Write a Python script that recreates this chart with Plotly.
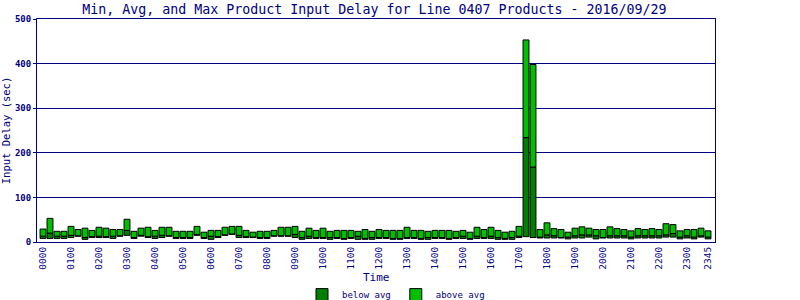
import plotly.graph_objects as go

# 15-minute time slots 0000 .. 2345
times = [f"{h:02d}{m:02d}" for h in range(24) for m in (0, 15, 30, 45)]

min_vals = [8, 8, 8, 8, 10, 13, 6, 10, 10, 10, 8, 13, 15, 8, 13, 10,
            8, 10, 13, 8, 8, 8, 15, 8, 6, 10, 15, 17, 10, 10, 10, 8,
            8, 13, 13, 13, 10, 6, 8, 8, 8, 6, 8, 6, 8, 6, 6, 6,
            8, 8, 6, 6, 8, 8, 6, 6, 8, 8, 6, 8, 8, 6, 8, 8,
            8, 6, 6, 6, 10, 12, 10, 9, 9, 9, 9, 7, 9, 9, 11, 7,
            9, 9, 9, 9, 7, 9, 9, 9, 9, 11, 11, 7, 9, 7, 11, 7]

avg_vals = [13, 20, 13, 13, 15, 14, 10, 12, 13, 12, 13, 14, 26, 10, 15, 12,
            13, 15, 14, 10, 10, 10, 17, 10, 13, 12, 16, 18, 15, 12, 11, 10,
            10, 14, 14, 14, 17, 10, 13, 10, 10, 10, 10, 8, 10, 13, 8, 10,
            10, 10, 8, 8, 10, 10, 8, 10, 10, 10, 8, 10, 13, 8, 13, 10,
            13, 10, 8, 10, 13, 234, 168, 11, 16, 14, 10, 11, 14, 16, 16, 14,
            10, 14, 14, 14, 11, 14, 14, 14, 14, 16, 19, 11, 14, 11, 14, 11]

max_vals = [29, 53, 24, 24, 35, 28, 31, 26, 33, 31, 28, 28, 51, 24, 31, 33,
            26, 33, 33, 24, 24, 24, 35, 22, 26, 26, 33, 35, 35, 26, 22, 24,
            24, 26, 33, 33, 35, 24, 31, 26, 31, 24, 26, 26, 26, 24, 28, 24,
            28, 26, 26, 26, 33, 26, 26, 24, 26, 26, 26, 24, 26, 22, 33, 28,
            33, 26, 22, 24, 35, 453, 398, 28, 43, 30, 28, 22, 31, 34, 31, 28,
            28, 34, 30, 28, 25, 30, 28, 30, 28, 41, 39, 25, 28, 28, 31, 25]

tick_labels = ["0000", "0100", "0200", "0300", "0400", "0500", "0600", "0700",
               "0800", "0900", "1000", "1100", "1200", "1300", "1400", "1500",
               "1600", "1700", "1800", "1900", "2000", "2100", "2200", "2300", "2345"]

NAVY = "#000080"
FONT = "DejaVu Sans Mono"

x_idx = list(range(len(times)))
tick_pos = [times.index(t) for t in tick_labels]

below_h = [a - mn for a, mn in zip(avg_vals, min_vals)]
above_h = [mx - a for mx, a in zip(max_vals, avg_vals)]

fig = go.Figure()
fig.add_trace(go.Bar(
    x=x_idx, y=below_h, base=min_vals, name="below avg",
    marker=dict(color="#007f00", line=dict(color="black", width=1)),
    customdata=times,
))
fig.add_trace(go.Bar(
    x=x_idx, y=above_h, base=avg_vals, name="above avg",
    marker=dict(color="#00bf00", line=dict(color="black", width=1)),
    customdata=times,
))

fig.update_layout(
    width=800, height=300,
    margin=dict(l=37, r=85, t=19, b=58, autoexpand=False),
    paper_bgcolor="white", plot_bgcolor="white",
    barmode="overlay", bargap=0.16,
    title=dict(text="Min, Avg, and Max Product Input Delay for Line 0407 Products - 2016/09/29",
               font=dict(family=FONT, size=13.3, color=NAVY),
               x=0.468, xanchor="center", y=0.985, yanchor="top"),
    font=dict(family=FONT, color=NAVY),
    showlegend=True,
    legend=dict(orientation="h", x=0.495, xref="container", xanchor="center",
                y=0.018, yref="container", yanchor="middle",
                font=dict(family=FONT, size=9, color=NAVY),
                itemwidth=30, traceorder="normal", tracegroupgap=0),
    xaxis=dict(
        range=[-0.857, 96], tickmode="array", tickvals=tick_pos, ticktext=tick_labels,
        tickangle=-90, tickfont=dict(family=FONT, size=9.5, color=NAVY),
        showgrid=False, showline=True, linecolor=NAVY, linewidth=1, mirror=True,
        ticks="", zeroline=False, automargin=False,
    ),
    yaxis=dict(
        range=[0, 500], tickvals=[0, 100, 200, 300, 400, 500],
        tickfont=dict(family=FONT, size=9, color=NAVY, weight="bold"),
        showgrid=True, gridcolor=NAVY, gridwidth=1,
        showline=True, linecolor=NAVY, linewidth=1, mirror=True,
        ticks="outside", ticklen=3, tickcolor=NAVY, zeroline=False, automargin=False,
        title=dict(text="Input Delay (sec)", font=dict(family=FONT, size=10.5, color=NAVY), standoff=8),
    ),
    annotations=[dict(text="Time", xref="paper", yref="paper", x=0.5, y=-0.157,
                      xanchor="center", yanchor="middle", showarrow=False,
                      font=dict(family=FONT, size=11, color=NAVY))],
)

fig.write_html("out.html")
